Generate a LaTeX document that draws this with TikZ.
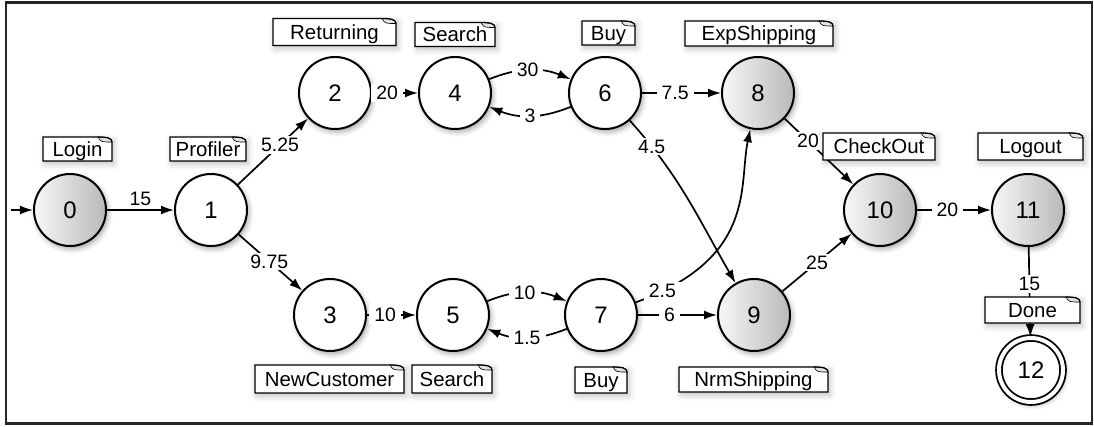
\documentclass[tikz,border=0pt]{standalone}
\usepackage{fontspec}
\setmainfont{Liberation Sans}
\usetikzlibrary{arrows.meta,shadows,shadows.blur,calc}

\newcommand{\notebox}[5]{%
  \node[note, minimum width=#3bp, minimum height=#4bp] (#1) at (#2) {#5};
  \filldraw[fill=gray!22, line width=0.6bp] ([xshift=-14bp]#1.north east) .. controls ([xshift=-11bp,yshift=-5bp]#1.north east) .. ([yshift=-5bp]#1.north east) .. controls ([yshift=-1bp]#1.north east) and ([xshift=-5bp]#1.north east) .. ([xshift=-14bp]#1.north east) -- cycle;
  \draw[notepen] (#1.south west) -- (#1.north west) -- ([xshift=-14bp]#1.north east) .. controls ([xshift=-5bp]#1.north east) and ([yshift=-1bp]#1.north east) .. ([yshift=-5bp]#1.north east) -- (#1.south east) -- cycle;
}

\begin{document}
\begin{tikzpicture}[x=1bp,y=-1bp,
  softshadow/.style={blur shadow={shadow xshift=2bp, shadow yshift=-3bp, shadow blur radius=5bp, shadow opacity=35}},
  notehadow/.style={blur shadow={shadow xshift=2bp, shadow yshift=-3bp, shadow blur radius=6bp, shadow opacity=25}},
  state/.style={circle, draw, line width=2bp, minimum size=72bp, inner sep=0pt, fill=white,
     font=\fontsize{24}{26}\selectfont, softshadow},
  gstate/.style={state, left color=gray!6, right color=gray!55},
  final/.style={state, minimum size=64bp, line width=1.8bp, double, double distance=4bp},
  edge/.style={line width=1.7bp, -{Latex[length=13bp,width=9bp]}},
  lab/.style={fill=white, inner xsep=5bp, inner ysep=2bp, font=\fontsize{19.5}{21}\selectfont},
  note/.style={fill=white, inner sep=0pt, outer sep=0pt, text depth=0pt, font=\fontsize{20.5}{22}\selectfont, notehadow},
  notepen/.style={line width=1.3bp, line join=miter}
]
\useasboundingbox (0,0) rectangle (1094,426);
\draw[line width=2.2bp, black!85] (6,2.5) rectangle (1092,423.5);

% states
\node[gstate] (n0) at (70,210) {0};
\node[state]  (n1) at (211,210) {1};
\node[state]  (n2) at (335,93) {2};
\node[state]  (n4) at (455,93) {4};
\node[state]  (n6) at (605,93) {6};
\node[gstate] (n8) at (758,93) {8};
\node[state]  (n3) at (330,315) {3};
\node[state]  (n5) at (453,315) {5};
\node[state]  (n7) at (601,315) {7};
\node[gstate] (n9) at (754,315) {9};
\node[gstate] (n10) at (880,210) {10};
\node[gstate] (n11) at (1028,210) {11};
\node[final]  (n12) at (1031,370) {12};
\coordinate (start) at (11,210);

% transitions
\draw[edge] (start) -- (n0);
\draw[edge] (n0) -- node[lab, fill=none, above=1bp]{15} (n1);
\draw[edge] (n1) -- node[lab, pos=0.6]{5.25} (n2);
\draw[edge] (n1) -- node[lab, pos=0.48]{9.75} (n3);
\draw[edge] (n2) -- node[lab, pos=0.33]{20} (n4);
\draw[edge] (n3) -- node[lab, pos=0.37]{10} (n5);
\draw[edge] (n4) to[bend left=22] node[lab, pos=0.47]{30} (n6);
\draw[edge] (n6) to[bend left=22] node[lab, pos=0.5]{3} (n4);
\draw[edge] (n5) to[bend left=22] node[lab, pos=0.47]{10} (n7);
\draw[edge] (n7) to[bend left=22] node[lab, pos=0.5]{1.5} (n5);
\draw[edge] (n6) -- node[lab, pos=0.42]{7.5} (n8);
\draw[edge] (n7) -- node[lab, pos=0.4]{6} (n9);
\draw[edge] (n6) to[out=-48, in=120] node[lab, pos=0.16]{4.5} (n9);
\draw[edge] (n7) to[out=20, in=-102, out looseness=1.6, in looseness=0.7] node[lab, pos=0.08]{2.5} (n8);
\draw[edge] (n8) -- node[lab, pos=0.34]{20} (n10);
\draw[edge] (n9) -- node[lab, pos=0.5]{25} (n10);
\draw[edge] (n10) -- node[lab, pos=0.41]{20} (n11);
\draw[edge] (n11) -- node[lab, pos=0.41]{15} (n12);

% notes
\notebox{tLogin}{77.5,149}{69}{24}{Login}
\notebox{tProfiler}{208,149}{76}{24}{Profiler}
\notebox{tReturning}{334.5,32}{123}{27}{Returning}
\notebox{tSearchA}{455,34.5}{80}{24}{Search}
\notebox{tBuyA}{608.5,33}{53}{24}{Buy}
\notebox{tExp}{759,33.5}{148}{25}{ExpShipping}
\notebox{tCheck}{879,146.5}{112}{27}{CheckOut}
\notebox{tLogout}{1030.5,146.5}{105}{27}{Logout}
\notebox{tDone}{1032.5,310}{95}{26}{Done}
\notebox{tNew}{329.5,379}{149}{28}{NewCustomer}
\notebox{tSearchB}{452,379}{80}{28}{Search}
\notebox{tBuyB}{601,380}{52}{26}{Buy}
\notebox{tNrm}{753.5,379.5}{149}{25}{NrmShipping}
\end{tikzpicture}
\end{document}
